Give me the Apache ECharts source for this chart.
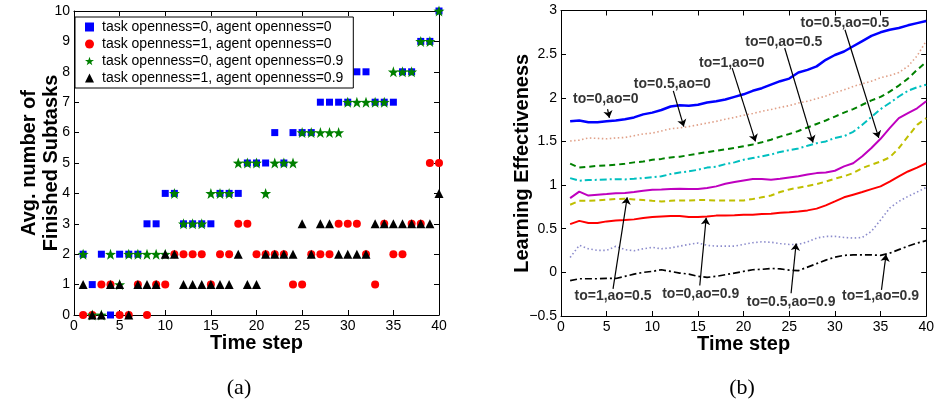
<!DOCTYPE html>
<html>
<head>
<meta charset="utf-8">
<script src="https://cdn.jsdelivr.net/npm/echarts@6/dist/echarts.min.js"></script>
<style>
html, body { margin: 0; padding: 0; background: #fff; }
#main { width: 937px; height: 400px; }
</style>
</head>
<body>
<div id="main"></div>
<script>
// time steps shared by both panels
var steps = [1,2,3,4,5,6,7,8,9,10,11,12,13,14,15,16,17,18,19,20,21,22,23,24,25,26,27,28,29,30,31,32,33,34,35,36,37,38,39,40];

// (a) avg. number of finished subtasks
var sub_to0_ao0  = [2,1,2,0,2,2,2,3,3,4,4,3,3,3,3,4,4,4,5,5,5,6,5,6,6,6,7,7,7,7,8,8,7,7,7,8,8,9,9,10];
var sub_to1_ao0  = [0,0,1,1,0,0,1,0,1,1,2,2,2,2,1,2,2,3,3,2,2,2,2,1,1,2,2,2,3,3,3,2,1,3,2,2,3,3,5,5];
var sub_to0_ao09 = [2,0,0,2,1,2,2,2,2,2,4,3,3,3,4,4,4,5,5,5,4,5,5,5,6,6,6,6,6,7,7,7,7,7,8,8,8,9,9,10];
var sub_to1_ao09 = [1,0,0,1,1,0,1,1,1,2,2,1,1,1,1,1,1,2,1,1,2,2,2,2,3,2,3,3,2,2,2,2,3,3,3,3,3,3,3,4];

// (b) learning effectiveness
var le_to0_ao0   = [1.73,1.74,1.72,1.72,1.73,1.74,1.755,1.775,1.81,1.83,1.86,1.90,1.915,1.91,1.92,1.945,1.96,1.98,2.01,2.04,2.08,2.11,2.15,2.19,2.22,2.29,2.32,2.36,2.435,2.49,2.53,2.59,2.65,2.71,2.75,2.78,2.80,2.83,2.855,2.88];
var le_to05_ao0  = [1.505,1.515,1.54,1.535,1.53,1.54,1.545,1.565,1.585,1.595,1.62,1.645,1.655,1.67,1.69,1.71,1.73,1.755,1.775,1.80,1.82,1.845,1.865,1.89,1.91,1.94,1.96,1.99,2.02,2.06,2.09,2.13,2.16,2.19,2.23,2.255,2.29,2.36,2.48,2.65];
var le_to1_ao0   = [1.245,1.20,1.21,1.22,1.225,1.233,1.244,1.26,1.27,1.29,1.30,1.317,1.325,1.343,1.36,1.378,1.393,1.41,1.425,1.445,1.465,1.49,1.52,1.555,1.585,1.62,1.66,1.70,1.74,1.785,1.83,1.87,1.92,1.97,2.01,2.07,2.14,2.22,2.32,2.41];
var le_to0_ao05  = [1.08,1.05,1.057,1.06,1.065,1.068,1.065,1.072,1.08,1.09,1.10,1.126,1.145,1.157,1.175,1.20,1.21,1.24,1.26,1.29,1.31,1.33,1.35,1.38,1.40,1.42,1.45,1.48,1.50,1.54,1.56,1.61,1.69,1.78,1.87,1.94,2.015,2.08,2.12,2.15];
var le_to05_ao05 = [0.85,0.925,0.88,0.89,0.897,0.905,0.908,0.92,0.935,0.947,0.95,0.954,0.958,0.955,0.955,0.966,0.985,1.015,1.034,1.053,1.07,1.07,1.06,1.073,1.088,1.10,1.12,1.137,1.145,1.164,1.214,1.25,1.33,1.424,1.53,1.653,1.767,1.824,1.88,1.96];
var le_to1_ao05  = [0.775,0.82,0.82,0.824,0.832,0.84,0.843,0.836,0.828,0.82,0.813,0.82,0.824,0.824,0.828,0.828,0.824,0.824,0.824,0.824,0.84,0.86,0.88,0.92,0.95,0.97,0.99,1.01,1.04,1.073,1.10,1.137,1.195,1.233,1.27,1.317,1.424,1.557,1.69,1.767];
var le_to0_ao09  = [0.553,0.59,0.565,0.565,0.584,0.595,0.60,0.607,0.622,0.633,0.64,0.645,0.645,0.633,0.633,0.64,0.65,0.65,0.653,0.66,0.66,0.668,0.672,0.683,0.69,0.698,0.71,0.73,0.767,0.813,0.86,0.89,0.92,0.954,0.985,1.04,1.10,1.156,1.20,1.25];
var le_to05_ao09 = [0.17,0.31,0.27,0.252,0.252,0.298,0.26,0.248,0.27,0.286,0.27,0.28,0.30,0.32,0.336,0.31,0.30,0.30,0.30,0.32,0.34,0.35,0.345,0.33,0.32,0.32,0.35,0.393,0.412,0.412,0.40,0.393,0.40,0.47,0.6,0.737,0.813,0.87,0.92,0.973];
var le_to1_ao09  = [-0.095,-0.073,-0.073,-0.073,-0.07,-0.07,-0.046,-0.02,0.0,0.011,0.03,0.011,-0.008,-0.02,-0.046,-0.057,-0.046,-0.027,-0.008,0.011,0.03,0.035,0.045,0.04,0.025,0.02,0.06,0.10,0.14,0.175,0.195,0.20,0.20,0.20,0.195,0.22,0.26,0.30,0.336,0.363];

// annotations of panel (b): label, text centre, arrow start, arrow tip (data units)
var annoText = ['to=0,ao=0','to=0.5,ao=0','to=1,ao=0','to=0,ao=0.5','to=0.5,ao=0.5','to=1,ao=0.5','to=0,ao=0.9','to=0.5,ao=0.9','to=1,ao=0.9'];
var annoPos  = [[4.9,1.99],[12.2,2.16],[18.7,2.40],[24.4,2.64],[31.1,2.85],[5.7,-0.275],[15.3,-0.255],[25.2,-0.34],[35.0,-0.275]];
var annoFrom = [[5.1,1.87],[12.3,2.08],[18.75,2.34],[24.5,2.57],[31.1,2.78],[5.7,-0.19],[15.2,-0.15],[25.2,-0.24],[35.1,-0.20]];
var annoTo   = [[5.3,1.77],[13.45,1.67],[21.3,1.50],[27.6,1.487],[34.8,1.54],[7.25,0.86],[15.9,0.625],[25.75,0.33],[35.6,0.205]];

var starPath = 'path://M0,-10L2.35,-3.24L9.51,-3.09L3.8,1.24L5.88,8.09L0,4L-5.88,8.09L-3.8,1.24L-9.51,-3.09L-2.35,-3.24Z';
var font = 'Arial, "Liberation Sans", Helvetica, sans-serif';

function pairs(vals) {
  return steps.map(function (s, i) { return [s, vals[i]]; });
}

function xAx(grid, pos, min, max, step) {
  return {
    type: 'value', gridIndex: grid, position: pos, min: min, max: max, interval: step,
    name: pos === 'bottom' ? 'Time step' : '',
    nameLocation: 'middle', nameGap: 18, nameMoveOverlap: false,
    nameTextStyle: { fontFamily: font, fontSize: 20, fontWeight: 'bold', color: '#000' },
    axisLine: { show: true, onZero: false, lineStyle: { color: '#000', width: 1 } },
    axisTick: { show: true, inside: true, length: 5, lineStyle: { color: '#000' } },
    axisLabel: { show: pos === 'bottom', fontFamily: font, fontSize: 14, color: '#000', margin: 4 },
    splitLine: { show: false }
  };
}

function yAx(grid, pos, min, max, step, name, gap) {
  return {
    type: 'value', gridIndex: grid, position: pos, min: min, max: max, interval: step,
    name: pos === 'left' ? name : '',
    nameLocation: 'middle', nameGap: gap, nameRotate: 90, nameMoveOverlap: false,
    nameTextStyle: { fontFamily: font, fontSize: 20, fontWeight: 'bold', color: '#000', lineHeight: 22 },
    axisLine: { show: true, onZero: false, lineStyle: { color: '#000', width: 1 } },
    axisTick: { show: true, inside: true, length: 5, lineStyle: { color: '#000' } },
    axisLabel: {
      show: pos === 'left', fontFamily: font, fontSize: 14, color: '#000', margin: 4,
      formatter: function (v) { return v < 0 ? '\u2212' + Math.abs(v) : String(v); }
    },
    splitLine: { show: false }
  };
}

function dots(name, vals, symbol, size, color) {
  return {
    name: name, type: 'scatter', xAxisIndex: 0, yAxisIndex: 0,
    symbol: symbol, symbolSize: size,
    itemStyle: { color: color, opacity: 1 },
    data: pairs(vals)
  };
}

function curve(vals, color, width, dash) {
  return {
    type: 'line', xAxisIndex: 2, yAxisIndex: 2, showSymbol: false, symbol: 'none',
    lineStyle: { color: color, width: width, type: dash },
    data: pairs(vals)
  };
}

var chart = echarts.init(document.getElementById('main'));

var annoLabels = annoText.map(function (t, i) {
  return { name: t, value: annoPos[i] };
});
var annoLines = annoText.map(function (t, i) {
  return { coords: [annoFrom[i], annoTo[i]] };
});

chart.setOption({
  animation: false,
  grid: [
    { left: 74, top: 11, width: 365, height: 304 },
    { left: 561, top: 10.5, width: 371, height: 305.5 }
  ],
  xAxis: [
    xAx(0, 'bottom', 0, 40, 5), xAx(0, 'top', 0, 40, 5),
    xAx(1, 'bottom', 0, 40, 5), xAx(1, 'top', 0, 40, 5)
  ],
  yAxis: [
    yAx(0, 'left', 0, 10, 1, 'Avg. number of\nFinished Subtasks', 12), yAx(0, 'right', 0, 10, 1, '', 0),
    yAx(1, 'left', -0.5, 3, 0.5, 'Learning Effectiveness', 28), yAx(1, 'right', -0.5, 3, 0.5, '', 0)
  ],
  legend: {
    data: ['task openness=0, agent openness=0', 'task openness=1, agent openness=0',
           'task openness=0, agent openness=0.9', 'task openness=1, agent openness=0.9'],
    orient: 'vertical', left: 75, top: 17,
    padding: [3, 10, 3, 10], itemGap: 3, itemWidth: 9, itemHeight: 9,
    backgroundColor: '#fff', borderColor: '#000', borderWidth: 1,
    textStyle: { fontFamily: font, fontSize: 14, color: '#000', lineHeight: 14, padding: [0, 0, 0, 3] }
  },
  graphic: [
    { type: 'text', x: 239, y: 388, style: { text: '(a)', fontFamily: '"Liberation Serif", "Times New Roman", serif', fontSize: 22, fill: '#000', textAlign: 'center', textVerticalAlign: 'middle' } },
    { type: 'text', x: 742, y: 388, style: { text: '(b)', fontFamily: '"Liberation Serif", "Times New Roman", serif', fontSize: 22, fill: '#000', textAlign: 'center', textVerticalAlign: 'middle' } }
  ],
  series: [
    dots('task openness=0, agent openness=0', sub_to0_ao0, 'rect', 7, '#0000ff'),
    dots('task openness=1, agent openness=0', sub_to1_ao0, 'circle', 8, '#ff0000'),
    dots('task openness=0, agent openness=0.9', sub_to0_ao09, starPath, 11, '#008000'),
    dots('task openness=1, agent openness=0.9', sub_to1_ao09, 'triangle', 9, '#000000'),

    curve(le_to1_ao09, '#000000', 1.7, [7, 3, 2, 3]),
    curve(le_to05_ao09, '#8c8ccc', 1.6, [1.5, 2.5]),
    curve(le_to0_ao09, '#ff0000', 2, 'solid'),
    curve(le_to1_ao05, '#bfbf00', 2, [6, 4]),
    curve(le_to05_ao05, '#bf00bf', 2, 'solid'),
    curve(le_to0_ao05, '#00bfbf', 2, [7, 3, 2, 3]),
    curve(le_to1_ao0, '#008000', 2, [6, 4]),
    curve(le_to05_ao0, '#e0a088', 1.6, [1.5, 2.5]),
    curve(le_to0_ao0, '#0000ff', 2.5, 'solid'),

    {
      type: 'lines', coordinateSystem: 'cartesian2d', xAxisIndex: 2, yAxisIndex: 2,
      symbol: ['none', 'arrow'], symbolSize: 7,
      lineStyle: { color: '#000', width: 1.2, opacity: 1 },
      data: annoLines, z: 5
    },
    {
      type: 'scatter', xAxisIndex: 2, yAxisIndex: 2, symbolSize: 1,
      itemStyle: { color: 'rgba(0,0,0,0)' },
      label: {
        show: true, position: 'inside', formatter: function (p) { return p.name; },
        fontFamily: font, fontSize: 14, fontWeight: 'bold', color: '#000'
      },
      data: annoLabels, z: 6
    }
  ]
});
</script>
</body>
</html>
